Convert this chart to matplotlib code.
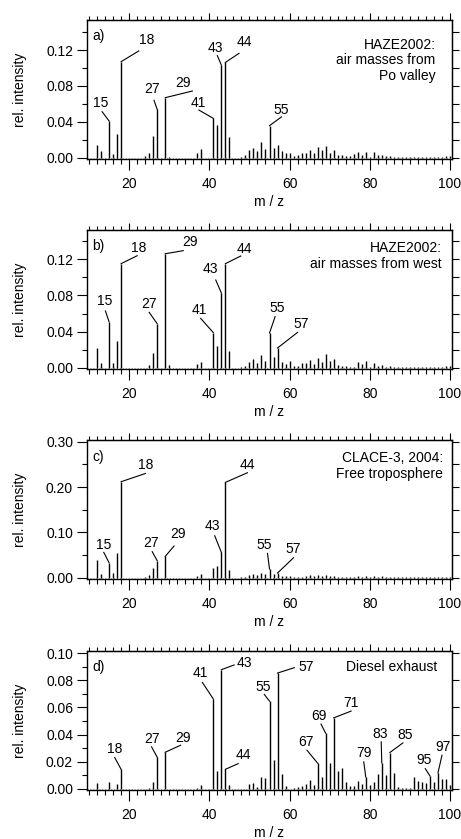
import matplotlib
matplotlib.use("Agg")
import matplotlib.pyplot as plt
from matplotlib.ticker import MultipleLocator, FormatStrFormatter, NullFormatter

plt.rcParams["font.family"] = ["Liberation Sans", "DejaVu Sans"]
plt.rcParams["font.size"] = 10

# m/z 10 ... 100, one value per integer mass
mz = list(range(10, 101))

po_valley = [
    0, 0, 0.014, 0.0074, 0, 0.041, 0.0037, 0.0267, 0.107, 0,
    0, 0, 0, 0, 0.0015, 0.0052, 0.0238, 0.0539, 0, 0.0669,
    0.001, 0, 0, 0, 0, 0, 0, 0.0052, 0.0093, 0,
    0, 0.0438, 0.0364, 0.1033, 0.1062, 0.023, 0, 0, 0.0007, 0.003,
    0.0085, 0.011, 0.0074, 0.0175, 0.0093, 0.0357, 0.0108, 0.0141, 0.0074, 0.0056,
    0.0056, 0.0022, 0.0026, 0.0052, 0.0056, 0.0089, 0.0052, 0.0115, 0.0085, 0.0134,
    0.0048, 0.0082, 0.003, 0.003, 0.0022, 0.0015, 0.0037, 0.0063, 0.0026, 0.0067,
    0.0007, 0.0063, 0.003, 0.0026, 0.0022, 0.0015, 0.001, 0.0008, 0.0007, 0.0008,
    0.0007, 0.0008, 0.0007, 0.0008, 0.0007, 0.0008, 0.001, 0.001, 0.0012, 0.0022,
    0.002,
]

west = [
    0, 0, 0.0214, 0.0052, 0, 0.0509, 0.0052, 0.0292, 0.1152, 0,
    0, 0, 0, 0, 0, 0.0033, 0.0159, 0.0487, 0, 0.1262,
    0.003, 0, 0, 0, 0, 0, 0, 0.0044, 0.0059, 0,
    0, 0.0388, 0.0236, 0.0827, 0.1152, 0.0185, 0, 0, 0.0005, 0.0015,
    0.0066, 0.0092, 0.0055, 0.0137, 0.0074, 0.0384, 0.0118, 0.0218, 0.0059, 0.0044,
    0.007, 0.0018, 0.0018, 0.0048, 0.0052, 0.0081, 0.0041, 0.0103, 0.0063, 0.0148,
    0.0074, 0.0096, 0.003, 0.0018, 0.0015, 0.0007, 0.0005, 0.0063, 0.0037, 0.007,
    0.0004, 0.0052, 0.0022, 0.0033, 0.0007, 0.0015, 0.0005, 0.0005, 0.0006, 0.0005,
    0.0005, 0.0005, 0.0005, 0.0005, 0.0005, 0.0005, 0.0006, 0.0005, 0.0006, 0.0018,
    0.0015,
]

free_trop = [
    0, 0, 0.039, 0.0088, 0, 0.0331, 0.0096, 0.0544, 0.2118, 0,
    0, 0, 0, 0, 0.0015, 0.0051, 0.022, 0.0375, 0, 0.047,
    0, 0, 0, 0, 0, 0, 0, 0.0037, 0.0074, 0,
    0, 0.022, 0.0257, 0.0559, 0.2103, 0.0169, 0, 0, 0.0008, 0.0015,
    0.0066, 0.0074, 0.0059, 0.0103, 0.0074, 0.0191, 0.0074, 0.0103, 0.0044, 0.0029,
    0.0029, 0.0015, 0.0015, 0.0015, 0.0037, 0.0051, 0.0037, 0.0051, 0.0037, 0.0066,
    0.0029, 0.0044, 0.0022, 0.0022, 0.0015, 0.0015, 0.0015, 0.0044, 0.0022, 0.0044,
    0.0015, 0.0037, 0.0022, 0.0029, 0.0022, 0.0022, 0.0015, 0.0015, 0.0015, 0.0015,
    0.0015, 0.0022, 0.0015, 0.0015, 0.0015, 0.0022, 0.0015, 0.0022, 0.0022, 0.0022,
    0.0015,
]

diesel = [
    0, 0, 0.0042, 0, 0, 0.0047, 0, 0.0037, 0.0143, 0,
    0, 0, 0, 0, 0, 0.0007, 0.0047, 0.0232, 0, 0.0269,
    0, 0, 0, 0, 0, 0, 0, 0.0007, 0.0027, 0,
    0, 0.0662, 0.0131, 0.0879, 0.0143, 0.003, 0, 0, 0, 0,
    0.0035, 0.004, 0.0015, 0.0086, 0.0079, 0.0647, 0.021, 0.0854, 0.0106, 0.002,
    0, 0.0005, 0.001, 0.002, 0.0032, 0.0062, 0.0025, 0.0188, 0.0084, 0.041,
    0.0188, 0.0523, 0.0131, 0.0156, 0.0049, 0.0017, 0.0017, 0.0059, 0.0035, 0.0086,
    0.003, 0.0047, 0.0109, 0.019, 0.0099, 0.0267, 0.0119, 0.001, 0.0007, 0.0007,
    0.0007, 0.0084, 0.0054, 0.0052, 0.004, 0.0094, 0.0052, 0.0116, 0.0069, 0.0069,
    0.0025,
]

spectra = [po_valley, west, free_trop, diesel]
letters = ["a)", "b)", "c)", "d)"]
titles = [
    "HAZE2002:\nair masses from\nPo valley",
    "HAZE2002:\nair masses from west",
    "CLACE-3, 2004:\nFree troposphere",
    "Diesel exhaust",
]

# peak label placement: peak -> (text x, text y, leader end x, leader end y)
peak_labels = [
    {15: (13.0, 0.061, 13.26, 0.0513), 18: (24.34, 0.131, 22.4, 0.119),
     27: (25.76, 0.0765, 26.2, 0.064), 29: (33.5, 0.0828, 35.76, 0.0743),
     41: (37.26, 0.061, 37.4, 0.0531), 43: (41.4, 0.1226, 42.0, 0.1137),
     44: (48.7, 0.129, 47.4, 0.1163), 55: (57.9, 0.0535, 58.0, 0.0455)},
    {15: (13.84, 0.0738, 14.09, 0.0628), 18: (22.43, 0.1329, 22.0, 0.124),
     27: (25.0, 0.0701, 25.0, 0.0613), 29: (35.2, 0.1388, 33.5, 0.1296),
     41: (37.4, 0.0639, 37.84, 0.0546), 43: (40.34, 0.1089, 41.6, 0.0971),
     44: (48.7, 0.132, 47.84, 0.1237), 55: (57.0, 0.0657, 56.4, 0.0565),
     57: (62.84, 0.0484, 62.0, 0.0391)},
    {15: (13.68, 0.072, 13.68, 0.0559), 18: (24.1, 0.2485, 24.1, 0.230),
     27: (25.5, 0.0757, 25.76, 0.0574), 29: (32.26, 0.0956, 31.2, 0.0699),
     43: (40.76, 0.1147, 41.34, 0.0926), 44: (49.5, 0.2485, 49.5, 0.2316),
     55: (53.7, 0.072, 54.5, 0.0537), 57: (61.0, 0.0632, 61.0, 0.0441)},
    {18: (16.34, 0.0291, 16.42, 0.023), 27: (25.6, 0.037, 25.6, 0.0309),
     29: (33.5, 0.0375, 32.84, 0.0321), 41: (37.84, 0.0852, 38.26, 0.0785),
     43: (48.7, 0.0926, 46.2, 0.0914), 44: (48.6, 0.0247, 47.2, 0.0185),
     55: (53.5, 0.0753, 53.7, 0.0696), 57: (64.1, 0.0901, 61.2, 0.0894),
     67: (64.1, 0.0346, 64.34, 0.0284), 69: (67.4, 0.0536, 67.84, 0.0477),
     71: (75.34, 0.063, 75.34, 0.0573), 79: (78.5, 0.0267, 78.5, 0.0198),
     83: (82.7, 0.0407, 82.85, 0.0346), 85: (88.84, 0.04, 88.26, 0.0338),
     95: (93.5, 0.021, 93.84, 0.0148), 97: (98.26, 0.0309, 98.0, 0.0247)},
]

# axis setup per panel: ylim, left major step, left minor step, right tick step
ylims = [(-0.0018, 0.1535), (-0.0018, 0.1525), (-0.0035, 0.3038), (-0.0012, 0.1017)]
major_steps = [0.04, 0.04, 0.10, 0.02]
minor_steps = [0.02, 0.02, 0.05, 0.01]
right_steps = [0.02, 0.02, 0.05, 0.02]
title_pos = [(0.955, 0.872), (0.971, 0.918), (0.976, 0.918), (0.960, 0.933)]
tops = [20, 230, 440, 651]

fig = plt.figure(figsize=(4.61, 8.39), dpi=100)

for i in range(4):
    h = 139.3
    ax = fig.add_axes([87 / 461, 1 - (tops[i] + h) / 839, 365 / 461, h / 839])
    ax.axhline(0, color="0.65", ls=":", lw=0.8, zorder=1)
    ax.vlines(mz, 0, spectra[i], color="black", lw=1.0, zorder=2)

    for peak, (tx, ty, ex, ey) in peak_labels[i].items():
        top = spectra[i][mz.index(peak)]
        ax.plot([peak, ex], [top, ey], color="black", lw=0.8)
        ax.text(tx, ty, str(peak), ha="center", va="center", fontsize=10)

    ax.text(0.015, 0.935 if i != 2 else 0.925, letters[i], transform=ax.transAxes,
            ha="left", va="top", fontsize=10)
    ax.text(title_pos[i][0], title_pos[i][1], titles[i], transform=ax.transAxes,
            ha="right", va="top", multialignment="right", fontsize=10, linespacing=1.15)

    ax.set_xlim(9.5, 100.5)
    ax.set_ylim(*ylims[i])
    ax.xaxis.set_major_locator(MultipleLocator(20))
    ax.xaxis.set_minor_locator(MultipleLocator(2))
    ax.yaxis.set_major_locator(MultipleLocator(major_steps[i]))
    ax.yaxis.set_minor_locator(MultipleLocator(minor_steps[i]))
    ax.yaxis.set_major_formatter(FormatStrFormatter("%.2f"))
    ax.tick_params(axis="both", which="both", direction="out", width=0.8, labelsize=10)
    ax.tick_params(axis="y", which="major", length=7.5, pad=2.5)
    ax.tick_params(axis="y", which="minor", length=3.6)
    ax.tick_params(axis="x", which="major", length=8, pad=5)
    ax.tick_params(axis="x", which="minor", length=3.6)
    for sp in ax.spines.values():
        sp.set_linewidth(1.0)

    top_ax = ax.secondary_xaxis("top")
    top_ax.xaxis.set_major_locator(MultipleLocator(20))
    top_ax.xaxis.set_minor_locator(MultipleLocator(2))
    top_ax.xaxis.set_major_formatter(NullFormatter())
    top_ax.tick_params(which="major", length=5, width=0.8)
    top_ax.tick_params(which="minor", length=3, width=0.8)

    right_ax = ax.secondary_yaxis("right")
    right_ax.yaxis.set_major_locator(MultipleLocator(right_steps[i]))
    right_ax.yaxis.set_major_formatter(NullFormatter())
    right_ax.tick_params(which="major", length=5, width=0.8)
    right_ax.tick_params(which="minor", length=0)

    ax.set_xlabel("m / z", fontsize=10, va="center")
    ax.set_ylabel("rel. intensity", fontsize=10, va="center")
    ax.xaxis.set_label_coords(0.5, -0.31)
    ax.yaxis.set_label_coords(-0.1836, 0.5)

fig.savefig("out.png", dpi=100)
